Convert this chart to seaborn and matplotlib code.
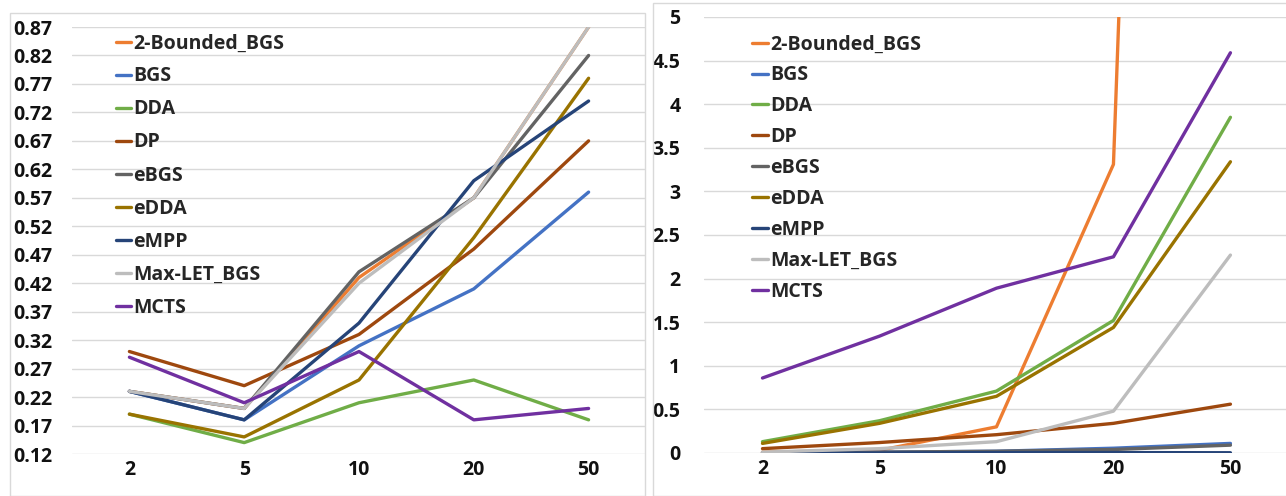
import pandas as pd
import matplotlib.pyplot as plt
import matplotlib.patches as mpatches
import seaborn as sns

# x categories
budgets = ["2", "5", "10", "20", "50"]
methods = ["2-Bounded_BGS", "BGS", "DDA", "DP", "eBGS", "eDDA", "eMPP", "Max-LET_BGS", "MCTS"]
colors = ["#ED7D31", "#4472C4", "#70AD47", "#9E480E", "#636363", "#997300", "#264478", "#BDBDBD", "#7030A0"]

# left chart values
left_bounded = [0.23, 0.20, 0.43, 0.57, 0.87]
left_bgs = [0.23, 0.18, 0.31, 0.41, 0.58]
left_dda = [0.19, 0.14, 0.21, 0.25, 0.18]
left_dp = [0.30, 0.24, 0.33, 0.48, 0.67]
left_ebgs = [0.23, 0.20, 0.44, 0.57, 0.82]
left_edda = [0.19, 0.15, 0.25, 0.50, 0.78]
left_empp = [0.23, 0.18, 0.35, 0.60, 0.74]
left_maxlet = [0.23, 0.20, 0.42, 0.57, 0.87]
left_mcts = [0.29, 0.21, 0.30, 0.18, 0.20]

# right chart values
right_bounded = [0.01, 0.03, 0.30, 3.31, 40.0]
right_bgs = [0.0, 0.01, 0.02, 0.055, 0.11]
right_dda = [0.13, 0.37, 0.71, 1.52, 3.85]
right_dp = [0.05, 0.12, 0.21, 0.34, 0.56]
right_ebgs = [0.0, 0.01, 0.02, 0.04, 0.09]
right_edda = [0.11, 0.34, 0.65, 1.44, 3.34]
right_empp = [0.0, 0.0, 0.005, 0.005, 0.003]
right_maxlet = [0.01, 0.05, 0.13, 0.48, 2.27]
right_mcts = [0.86, 1.34, 1.89, 2.25, 4.59]

left_series = [left_bounded, left_bgs, left_dda, left_dp, left_ebgs,
               left_edda, left_empp, left_maxlet, left_mcts]
right_series = [right_bounded, right_bgs, right_dda, right_dp, right_ebgs,
                right_edda, right_empp, right_maxlet, right_mcts]


def to_long(series):
    rows = []
    for name, vals in zip(methods, series):
        for i, v in enumerate(vals):
            rows.append({"pos": i, "value": v, "method": name})
    return pd.DataFrame(rows)


sns.set_theme(style="white")
plt.rcParams["font.family"] = ["Open Sans", "DejaVu Sans"]
plt.rcParams["font.weight"] = "bold"

W, H = 1286, 496
FS = 14
fig = plt.figure(figsize=(W / 100, H / 100), dpi=100)

# panel borders
fig.patches.append(mpatches.Rectangle((10 / W, 0), 635 / W, 1 - 13 / H, transform=fig.transFigure,
                                      fill=False, edgecolor="#D9D9D9", linewidth=1))
fig.patches.append(mpatches.Rectangle((653 / W, 0), 640 / W, 1 - 3 / H, transform=fig.transFigure,
                                      fill=False, edgecolor="#D9D9D9", linewidth=1))


def make_ax(x0, x1, ytop, ybot):
    return fig.add_axes([x0 / W, 1 - ybot / H, (x1 - x0) / W, (ybot - ytop) / H])


ax1 = make_ax(72, 646, 27, 454)
ax2 = make_ax(704, 1286, 17, 453)

palette = dict(zip(methods, colors))

for ax, series in [(ax1, left_series), (ax2, right_series)]:
    df = to_long(series)
    sns.lineplot(data=df, x="pos", y="value", hue="method", hue_order=methods,
                 palette=palette, linewidth=2.4, sort=False, ax=ax)
    ax.set_xticks(range(len(budgets)))
    ax.set_xticklabels(budgets)
    ax.set_xlabel("")
    ax.set_ylabel("")
    for s in ax.spines.values():
        s.set_visible(False)
    ax.grid(axis="y", color="#D9D9D9", linewidth=1)
    ax.set_axisbelow(True)
    ax.tick_params(axis="both", length=0, labelsize=FS, labelcolor="#111111")
    ax.tick_params(axis="x", pad=4)

ax1.set_xlim(-0.5, 4.5)
ax1.set_ylim(0.12, 0.87)
ax1.set_yticks([0.12 + 0.05 * i for i in range(16)])
ax1.set_yticklabels([f"{0.12 + 0.05 * i:.2f}" for i in range(16)])
ax1.tick_params(axis="y", pad=14)

ax2.set_xlim(-0.5, 4.475)
ax2.set_ylim(0, 5)
ax2.set_yticks([0.5 * i for i in range(11)])
ax2.set_yticklabels([f"{0.5 * i:g}" for i in range(11)])
ax2.tick_params(axis="y", pad=17)

for ax in (ax1, ax2):
    for lbl in ax.get_xticklabels() + ax.get_yticklabels():
        lbl.set_fontweight("bold")

for ax, anchor, spacing in [(ax1, (0.076, 0.985), 0.67), (ax2, (0.083, 0.96), 0.56)]:
    leg = ax.legend(loc="upper left", bbox_to_anchor=anchor, frameon=False,
                    handlelength=0.8, handletextpad=0.1, labelspacing=spacing,
                    borderpad=0, borderaxespad=0,
                    prop={"size": FS, "weight": "bold"})
    for line in leg.get_lines():
        line.set_linewidth(2.4)

fig.savefig("out.png", dpi=100)
